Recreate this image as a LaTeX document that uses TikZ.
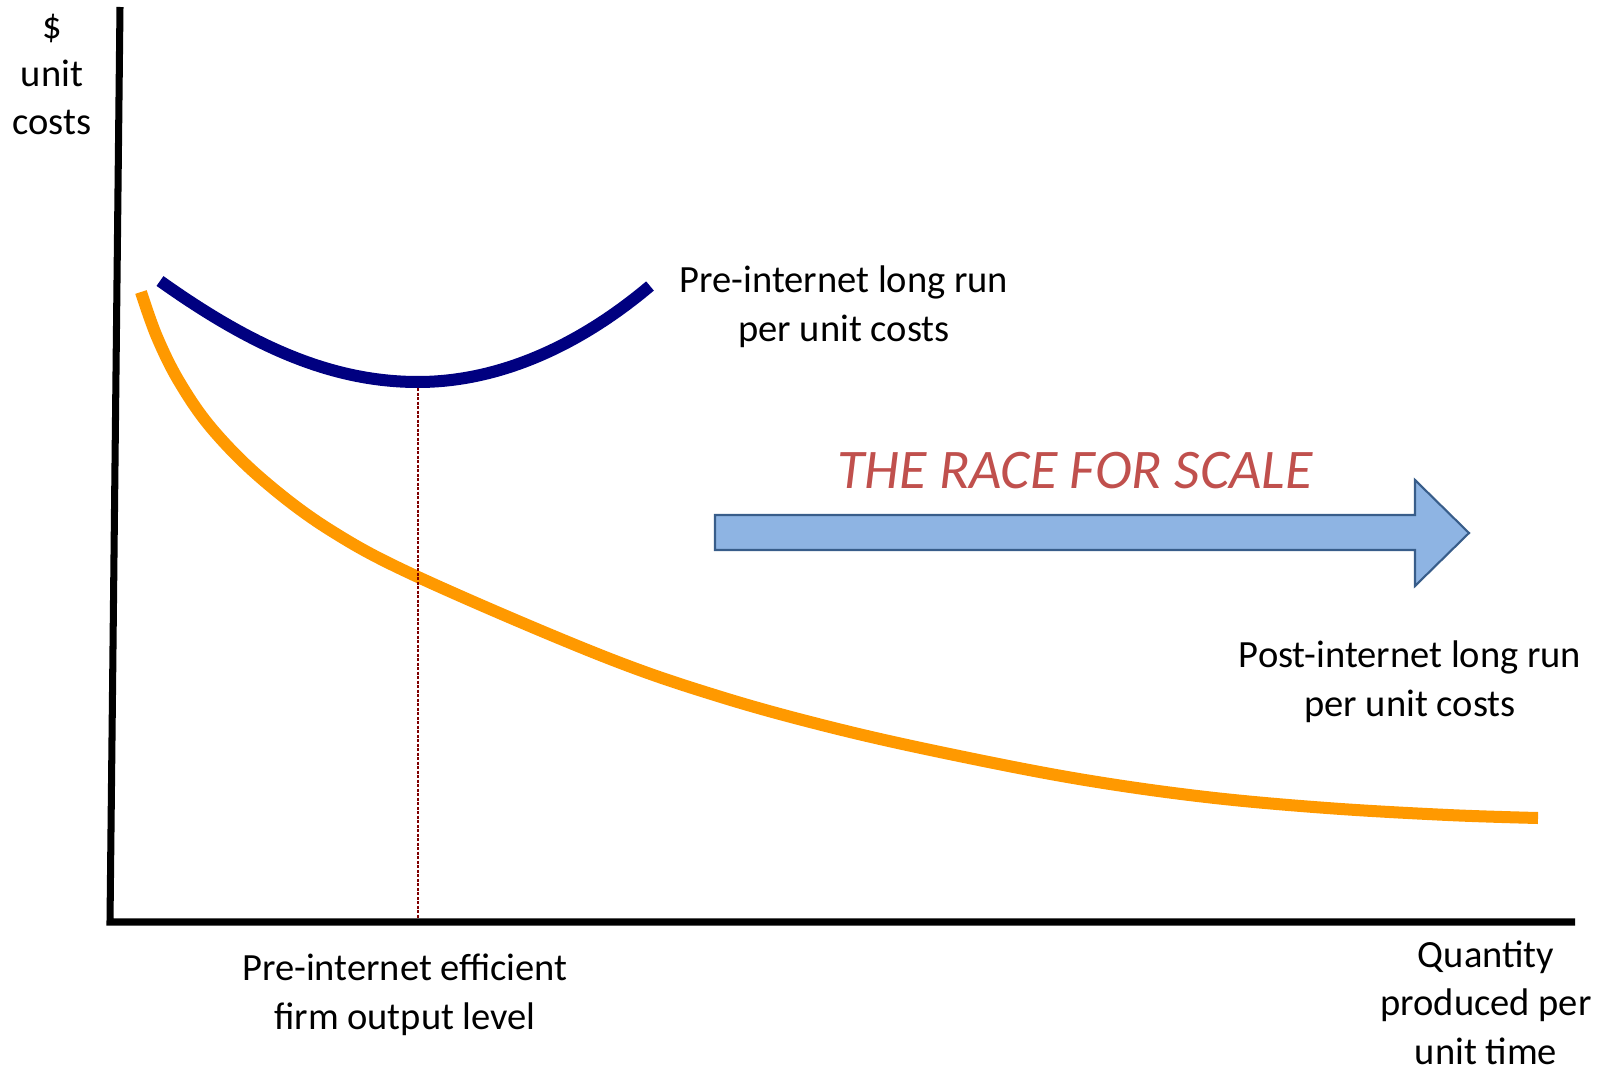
\documentclass[tikz,border=0pt]{standalone}
\usepackage{fontspec}
\setmainfont{Carlito}
\definecolor{navyc}{RGB}{0,0,128}
\definecolor{orangec}{RGB}{255,153,0}
\definecolor{dotred}{RGB}{128,0,0}
\definecolor{titlered}{RGB}{192,80,77}
\definecolor{arrowfill}{RGB}{142,180,227}
\definecolor{arrowline}{RGB}{56,93,138}
\tikzset{
  lbl/.style={inner sep=0pt, outer sep=0pt, anchor=base, align=center,
    font=\fontsize{10.95pt}{13.66pt}\selectfont},
  axisline/.style={line width=2pt, black, line join=miter},
  curvepre/.style={line width=0.12cm, navyc},
  curvepost/.style={line width=0.12cm, orangec},
  dropline/.style={line width=0.55pt, dotred, dash pattern=on 0.03cm off 0.015cm},
  racearrow/.style={fill=arrowfill, draw=arrowline, line width=0.6pt, line join=miter},
  racetitle/.style={inner sep=0pt, anchor=base, text=titlered,
    font=\fontsize{15.9pt}{18pt}\selectfont\itshape}
}
\begin{document}
\begin{tikzpicture}[x=0.01cm, y=-0.01cm]
\useasboundingbox (0,0) rectangle (1600,1070);
% axes
\coordinate (ytop) at (120,7);
\coordinate (orig) at (110,922);
\coordinate (xend) at (1575,922);
\draw[axisline] (ytop) -- (orig) -- (xend);
% pre-internet curve
\coordinate (bleft) at (160,281);
\coordinate (bmin) at (418,382);
\coordinate (bright) at (650,286);
\draw[curvepre] (bleft) .. controls (250,345) and (330,382) .. (bmin)
  .. controls (500,382) and (580,345) .. (bright);
% post-internet curve
\draw[curvepost] plot[smooth, tension=0.6] coordinates {(141,292) (157,337) (180,383) (213,430) (263,480) (330,530) (418,577) (600,655) (721,697) (842,730) (964,757) (1085,780) (1206,797) (1327,808) (1448,815) (1538,818)};
% dotted drop line
\coordinate (dtop) at (418,388);
\coordinate (dfoot) at (418,918);
\draw[dropline] (dtop) -- (dfoot);
% race arrow
\draw[racearrow] (715,515) -- (1415,515) -- (1415,480) -- (1469,533) -- (1415,586) -- (1415,550) -- (715,550) -- cycle;
\node[racetitle] (title) at (1075,488) {THE RACE FOR SCALE};
% labels (anchor base = baseline of last line)
\node[lbl] (ylab) at (52,135) {\$\\unit\\costs};
\node[lbl] (prelab) at (844,341) {Pre-internet long run\\per unit costs};
\node[lbl] (postlab) at (1410,716) {Post-internet long run\\per unit costs};
\node[lbl] (efflab) at (405,1029) {Pre-internet efficient\\firm output level};
\node[lbl] (xlab) at (1486,1064) {Quantity\\produced per\\unit time};
\end{tikzpicture}
\end{document}
